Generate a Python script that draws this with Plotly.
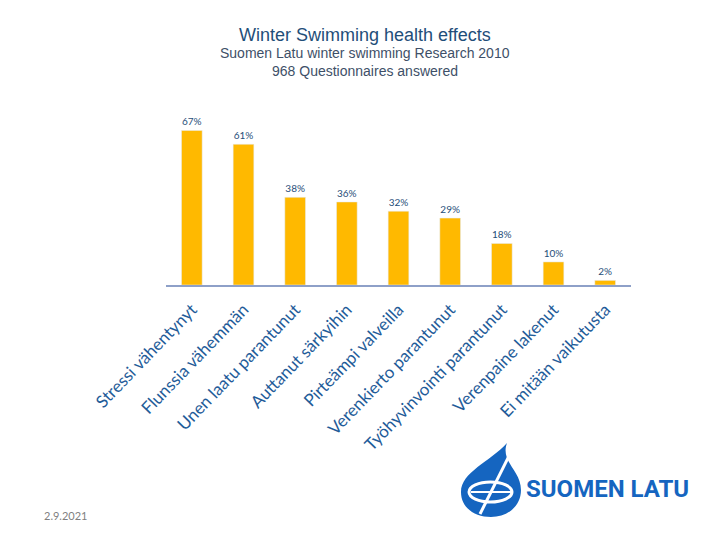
import plotly.graph_objects as go

# survey answers
effects = ['Stressi vähentynyt', 'Flunssia vähemmän', 'Unen laatu parantunut',
           'Auttanut särkyihin', 'Pirteämpi valveilla', 'Verenkierto parantunut',
           'Työhyvinvointi parantunut', 'Verenpaine lakenut', 'Ei mitään vaikutusta']
percent = [67, 61, 38, 36, 32, 29, 18, 10, 2]
pct_labels = [f'{p}%' for p in percent]

W, H = 720, 540
OFF = 8  # page margin of the html body
L, R, T, B = 158, 97, 104, 263
PW, PH = W - L - R, H - T - B


def px(x):
    return (x - OFF - L) / PW


def py(y):
    return (H - B - (y - OFF)) / PH


fig = go.Figure(go.Bar(
    x=effects,
    y=percent,
    marker_color='#FFB900',
    width=0.4,
    text=pct_labels,
    textposition='outside',
    cliponaxis=False,
    textfont=dict(family='Lato', size=10, color='#1F4E79'),
))

fig.update_layout(
    width=W, height=H,
    margin=dict(l=L, r=R, t=T, b=B, autoexpand=False),
    plot_bgcolor='white', paper_bgcolor='white',
    showlegend=False,
    xaxis=dict(tickangle=-46, showline=True, linecolor='#8EA0C8', linewidth=2,
               ticks='outside', ticklen=6, tickcolor='rgba(0,0,0,0)',
               tickfont=dict(family='Lato', size=17, color='#1F5C99'),
               automargin=False),
    yaxis=dict(range=[0, 75], visible=False, showgrid=False),
)


def note(x, y, text, size, color, family='Arial', anchor='center'):
    fig.add_annotation(x=px(x), y=py(y), xref='paper', yref='paper', showarrow=False,
                       xanchor=anchor, yanchor='middle', text=text,
                       font=dict(family=family, size=size, color=color))


# titles
note(365, 35, 'Winter Swimming health effects', 18, '#1F4E79')
note(365, 53, 'Suomen Latu winter swimming Research 2010', 14, '#3E5068')
note(365, 71, '968 Questionnaires answered', 14, '#3E5068')

# date
note(42, 515, '2.9.2021', 11, '#7F7F7F', family='Lato', anchor='left')

# logo
def pt(x, y):
    return f'{px(x):.4f},{py(y):.4f}'


drop = (f'M {pt(507, 443)} C {pt(490, 462)} {pt(461, 472)} {pt(461, 492)} '
        f'C {pt(461, 508)} {pt(475, 517)} {pt(491, 517)} '
        f'C {pt(508, 517)} {pt(521, 506)} {pt(521, 490)} '
        f'C {pt(521, 470)} {pt(500, 462)} {pt(507, 443)} Z')
fig.add_shape(type='path', xref='paper', yref='paper', path=drop,
              fillcolor='#1565C0', line=dict(width=0))
fig.add_shape(type='circle', xref='paper', yref='paper',
              x0=px(469), x1=px(512), y0=py(482), y1=py(502),
              line=dict(color='white', width=3))
fig.add_shape(type='line', xref='paper', yref='paper',
              x0=px(509), y0=py(456), x1=px(480), y1=py(514),
              line=dict(color='white', width=3))
fig.add_shape(type='line', xref='paper', yref='paper',
              x0=px(471), y0=py(492), x1=px(511), y1=py(492),
              line=dict(color='white', width=2))
note(524, 489, '<b>SUOMEN LATU</b>', 24, '#1565C0', family='Roboto', anchor='left')

fig.write_html('out.html')
